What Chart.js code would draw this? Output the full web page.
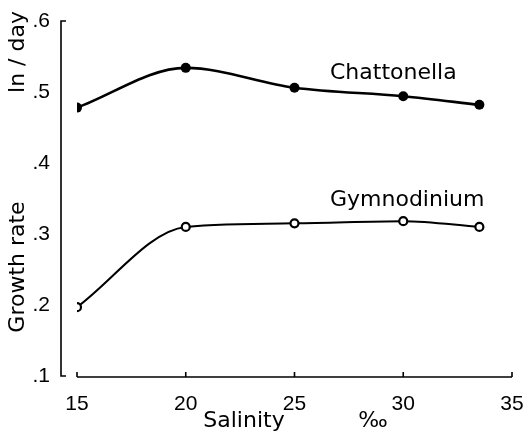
<!DOCTYPE html>
<html lang="en">
<head>
    <meta charset="UTF-8">
    <title>Growth rate vs salinity</title>
    <script src="https://cdn.jsdelivr.net/npm/chart.js"></script>
    <style>
        body { margin: 0; padding: 0; background: #fff; }
        #wrap { width: 526px; height: 445px; position: relative; }
    </style>
</head>
<body>
    <div id="wrap"><canvas id="chart"></canvas></div>

    <script>
        // values
        const salinity = [15, 20, 25, 30, 33.5];
        const chattonella = [0.478, 0.534, 0.506, 0.494, 0.482];
        const gymnodinium = [0.197, 0.310, 0.315, 0.318, 0.310];
        const xTickValues = [15, 20, 25, 30, 35];
        const yTickValues = [0.1, 0.2, 0.3, 0.4, 0.5, 0.6];

        const textFont = '"DejaVu Sans", sans-serif';
        const tickFont = { family: '"Liberation Sans", Arial, sans-serif', size: 21 };

        const toPoints = ys => salinity.map((x, i) => ({ x: x, y: ys[i] }));

        // axes and text drawn by hand so the broken-axis look of the original comes through
        const axesPlugin = {
            id: 'axesPlugin',
            afterDraw(chart) {
                const ctx = chart.ctx;
                const xs = chart.scales.x, ys = chart.scales.y;
                ctx.save();
                ctx.strokeStyle = '#000';
                ctx.lineWidth = 1.6;

                // y axis, set off to the left
                const ax = xs.left - 16;
                const yTop = ys.getPixelForValue(0.6), yBot = ys.getPixelForValue(0.1);
                ctx.beginPath();
                ctx.moveTo(ax + 5, yTop); ctx.lineTo(ax, yTop);
                ctx.lineTo(ax, yBot); ctx.lineTo(ax + 5, yBot);
                ctx.stroke();

                // x axis with upward ticks
                const by = ys.getPixelForValue(0.1) + 1;
                ctx.beginPath();
                ctx.moveTo(xs.getPixelForValue(15), by);
                ctx.lineTo(xs.getPixelForValue(35), by);
                xTickValues.forEach(v => {
                    const px = xs.getPixelForValue(v);
                    ctx.moveTo(px, by); ctx.lineTo(px, by - 5);
                });
                ctx.stroke();

                ctx.fillStyle = '#000';
                ctx.font = '22px ' + textFont;
                ctx.textBaseline = 'middle';
                ctx.textAlign = 'left';
                ctx.fillText('Chattonella', 330, 73);
                ctx.fillText('Gymnodinium', 330, 200);

                ctx.textAlign = 'center';
                ctx.fillText('Salinity', 244, 421);
                ctx.fillText('\u2030', 373, 421);

                ctx.translate(18, 0);
                ctx.rotate(-Math.PI / 2);
                ctx.fillText('Growth rate', -267, 0);
                ctx.fillText('ln / day', -52, 0);
                ctx.restore();
            }
        };

        new Chart(document.getElementById('chart').getContext('2d'), {
            type: 'line',
            data: {
                datasets: [
                    {
                        label: 'Chattonella',
                        data: toPoints(chattonella),
                        borderColor: '#000',
                        backgroundColor: '#000',
                        borderWidth: 2.6,
                        pointRadius: 5,
                        pointBorderWidth: 0,
                        cubicInterpolationMode: 'monotone'
                    },
                    {
                        label: 'Gymnodinium',
                        data: toPoints(gymnodinium),
                        borderColor: '#000',
                        backgroundColor: '#fff',
                        borderWidth: 2,
                        pointRadius: 4,
                        pointBorderWidth: 2.2,
                        cubicInterpolationMode: 'monotone'
                    }
                ]
            },
            options: {
                responsive: true,
                maintainAspectRatio: false,
                animation: false,
                layout: { padding: { left: 0, top: 21, right: 14, bottom: 0 } },
                plugins: { legend: { display: false }, tooltip: { enabled: false } },
                scales: {
                    x: {
                        type: 'linear',
                        min: 15,
                        max: 35,
                        afterFit: s => { s.height = 69; s.paddingLeft = 0; s.paddingRight = 0; },
                        afterBuildTicks: s => { s.ticks = xTickValues.map(v => ({ value: v })); },
                        grid: { display: false, drawTicks: false },
                        border: { display: false },
                        ticks: { padding: 16, color: '#000', font: tickFont, maxRotation: 0 }
                    },
                    y: {
                        type: 'linear',
                        min: 0.1,
                        max: 0.6,
                        afterFit: s => { s.width = 77; s.paddingTop = 0; s.paddingBottom = 0; },
                        afterBuildTicks: s => { s.ticks = yTickValues.map(v => ({ value: v })); },
                        grid: { display: false, drawTicks: false },
                        border: { display: false },
                        ticks: {
                            padding: 27,
                            color: '#000',
                            font: tickFont,
                            callback: v => '.' + Math.round(v * 10)
                        }
                    }
                }
            },
            plugins: [axesPlugin]
        });
    </script>
</body>
</html>
